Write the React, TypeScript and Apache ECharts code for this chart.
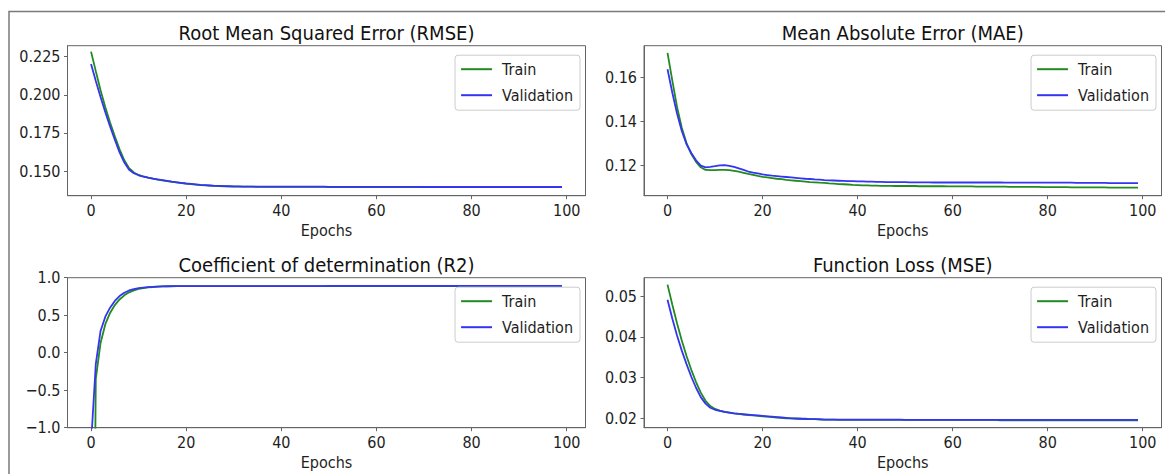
import React, { useEffect, useRef } from "react";
import * as echarts from "echarts";

const X_TICKS = [0, 20, 40, 60, 80, 100];

const RMSE_TRAIN = [
  0.2283, 0.2155, 0.2030, 0.1918, 0.1818, 0.1727, 0.1642, 0.1570, 0.1518, 0.1490,
  0.1474, 0.1464, 0.1456, 0.1450, 0.1444, 0.1439, 0.1434, 0.1429, 0.1425, 0.1421,
  0.1417, 0.1414, 0.1411, 0.1408, 0.1406, 0.1404, 0.1402, 0.1401, 0.1400, 0.1399,
  0.1398, 0.1398, 0.1397, 0.1397, 0.1397, 0.1396, 0.1396, 0.1396, 0.1396, 0.1396,
  0.1396, 0.1396, 0.1396, 0.1396, 0.1396, 0.1396, 0.1396, 0.1396, 0.1396, 0.1396,
  0.1395, 0.1395, 0.1395, 0.1395, 0.1395, 0.1395, 0.1395, 0.1395, 0.1395, 0.1395,
  0.1395, 0.1395, 0.1395, 0.1395, 0.1395, 0.1395, 0.1395, 0.1395, 0.1395, 0.1395,
  0.1395, 0.1395, 0.1395, 0.1395, 0.1395, 0.1395, 0.1395, 0.1395, 0.1395, 0.1395,
  0.1395, 0.1395, 0.1395, 0.1395, 0.1395, 0.1395, 0.1395, 0.1395, 0.1395, 0.1395,
  0.1395, 0.1395, 0.1395, 0.1395, 0.1395, 0.1395, 0.1395, 0.1395, 0.1395, 0.1395,
];
const RMSE_VAL = [
  0.2202, 0.2090, 0.1985, 0.1885, 0.1792, 0.1705, 0.1622, 0.1555, 0.1508, 0.1485,
  0.1472, 0.1463, 0.1456, 0.1450, 0.1445, 0.1440, 0.1435, 0.1430, 0.1426, 0.1422,
  0.1418, 0.1415, 0.1412, 0.1409, 0.1407, 0.1405, 0.1403, 0.1402, 0.1401, 0.1400,
  0.1399, 0.1399, 0.1398, 0.1398, 0.1398, 0.1397, 0.1397, 0.1397, 0.1397, 0.1397,
  0.1397, 0.1397, 0.1397, 0.1397, 0.1397, 0.1397, 0.1397, 0.1397, 0.1397, 0.1397,
  0.1396, 0.1396, 0.1396, 0.1396, 0.1396, 0.1396, 0.1396, 0.1396, 0.1396, 0.1396,
  0.1396, 0.1396, 0.1396, 0.1396, 0.1396, 0.1396, 0.1396, 0.1396, 0.1396, 0.1396,
  0.1395, 0.1395, 0.1395, 0.1395, 0.1395, 0.1395, 0.1395, 0.1395, 0.1395, 0.1395,
  0.1395, 0.1395, 0.1395, 0.1395, 0.1395, 0.1395, 0.1395, 0.1395, 0.1395, 0.1395,
  0.1395, 0.1395, 0.1395, 0.1395, 0.1395, 0.1395, 0.1395, 0.1395, 0.1395, 0.1395,
];

const MAE_TRAIN = [
  0.1710, 0.1585, 0.1465, 0.1370, 0.1300, 0.1250, 0.1215, 0.1190, 0.1178, 0.1177,
  0.1177, 0.1178, 0.1178, 0.1177, 0.1174, 0.1170, 0.1165, 0.1160, 0.1156, 0.1151,
  0.1147, 0.1144, 0.1141, 0.1138, 0.1136, 0.1133, 0.1131, 0.1129, 0.1127, 0.1125,
  0.1123, 0.1122, 0.1120, 0.1119, 0.1117, 0.1116, 0.1114, 0.1113, 0.1112, 0.1110,
  0.1109, 0.1108, 0.1108, 0.1107, 0.1107, 0.1106, 0.1106, 0.1106, 0.1105, 0.1105,
  0.1105, 0.1105, 0.1105, 0.1104, 0.1104, 0.1104, 0.1104, 0.1104, 0.1104, 0.1103,
  0.1103, 0.1103, 0.1103, 0.1103, 0.1103, 0.1102, 0.1102, 0.1102, 0.1102, 0.1102,
  0.1102, 0.1102, 0.1101, 0.1101, 0.1101, 0.1101, 0.1101, 0.1101, 0.1101, 0.1100,
  0.1100, 0.1100, 0.1100, 0.1100, 0.1100, 0.1099, 0.1099, 0.1099, 0.1099, 0.1099,
  0.1099, 0.1099, 0.1099, 0.1098, 0.1098, 0.1098, 0.1098, 0.1098, 0.1098, 0.1098,
];
const MAE_VAL = [
  0.1636, 0.1530, 0.1435, 0.1355, 0.1295, 0.1255, 0.1222, 0.1198, 0.1190, 0.1192,
  0.1195, 0.1199, 0.1200, 0.1197, 0.1192, 0.1185, 0.1178, 0.1171, 0.1166, 0.1162,
  0.1158, 0.1155, 0.1152, 0.1150, 0.1148, 0.1146, 0.1144, 0.1142, 0.1140, 0.1138,
  0.1137, 0.1135, 0.1134, 0.1132, 0.1131, 0.1130, 0.1129, 0.1128, 0.1127, 0.1127,
  0.1126, 0.1126, 0.1125, 0.1125, 0.1124, 0.1124, 0.1123, 0.1123, 0.1123, 0.1123,
  0.1123, 0.1122, 0.1122, 0.1122, 0.1122, 0.1122, 0.1121, 0.1121, 0.1121, 0.1121,
  0.1121, 0.1121, 0.1121, 0.1121, 0.1121, 0.1121, 0.1121, 0.1121, 0.1121, 0.1121,
  0.1121, 0.1120, 0.1120, 0.1120, 0.1120, 0.1120, 0.1120, 0.1120, 0.1120, 0.1120,
  0.1120, 0.1120, 0.1120, 0.1120, 0.1120, 0.1120, 0.1119, 0.1119, 0.1119, 0.1119,
  0.1119, 0.1119, 0.1119, 0.1118, 0.1118, 0.1118, 0.1118, 0.1118, 0.1118, 0.1118,
];

const R2_TRAIN = [
  -7.8, -0.35, 0.13, 0.38, 0.53, 0.635, 0.71, 0.765, 0.805, 0.832,
  0.850, 0.862, 0.870, 0.876, 0.880, 0.883, 0.885, 0.886, 0.887, 0.888,
  0.888, 0.888, 0.888, 0.888, 0.888, 0.888, 0.888, 0.888, 0.888, 0.888,
  0.888, 0.888, 0.888, 0.888, 0.888, 0.888, 0.888, 0.888, 0.888, 0.888,
  0.888, 0.888, 0.888, 0.888, 0.888, 0.888, 0.888, 0.888, 0.888, 0.888,
  0.889, 0.889, 0.889, 0.889, 0.889, 0.889, 0.889, 0.889, 0.889, 0.889,
  0.889, 0.889, 0.889, 0.889, 0.889, 0.889, 0.889, 0.889, 0.889, 0.889,
  0.889, 0.889, 0.889, 0.889, 0.889, 0.889, 0.889, 0.889, 0.889, 0.889,
  0.889, 0.889, 0.889, 0.889, 0.889, 0.889, 0.889, 0.889, 0.889, 0.889,
  0.889, 0.889, 0.889, 0.889, 0.889, 0.889, 0.889, 0.889, 0.889, 0.889,
];
const R2_VAL = [
  -1.22, -0.15, 0.29, 0.48, 0.60, 0.69, 0.755, 0.80, 0.830, 0.848,
  0.860, 0.868, 0.874, 0.878, 0.881, 0.884, 0.886, 0.887, 0.888, 0.889,
  0.889, 0.889, 0.889, 0.889, 0.889, 0.889, 0.889, 0.889, 0.889, 0.889,
  0.889, 0.889, 0.889, 0.889, 0.889, 0.889, 0.889, 0.889, 0.889, 0.889,
  0.889, 0.889, 0.889, 0.889, 0.889, 0.889, 0.889, 0.889, 0.889, 0.889,
  0.890, 0.890, 0.890, 0.890, 0.890, 0.890, 0.890, 0.890, 0.890, 0.890,
  0.890, 0.890, 0.890, 0.890, 0.890, 0.890, 0.890, 0.890, 0.890, 0.890,
  0.890, 0.890, 0.890, 0.890, 0.890, 0.890, 0.890, 0.890, 0.890, 0.890,
  0.890, 0.890, 0.890, 0.890, 0.890, 0.890, 0.890, 0.890, 0.890, 0.890,
  0.890, 0.890, 0.890, 0.890, 0.890, 0.890, 0.890, 0.890, 0.890, 0.890,
];

const MSE_TRAIN = [
  0.0528, 0.0479, 0.0433, 0.0391, 0.0353, 0.0319, 0.0289, 0.0263, 0.0243, 0.0230,
  0.0223, 0.0219, 0.0216, 0.0214, 0.0212, 0.0211, 0.0209, 0.0208, 0.0207, 0.0206,
  0.0205, 0.0204, 0.0203, 0.0202, 0.0201, 0.0200, 0.0200, 0.0199, 0.0199, 0.0198,
  0.0198, 0.0198, 0.0197, 0.0197, 0.0197, 0.0197, 0.0196, 0.0196, 0.0196, 0.0196,
  0.0196, 0.0196, 0.0196, 0.0196, 0.0196, 0.0196, 0.0196, 0.0196, 0.0196, 0.0196,
  0.0196, 0.0196, 0.0196, 0.0196, 0.0196, 0.0196, 0.0196, 0.0196, 0.0196, 0.0196,
  0.0196, 0.0196, 0.0196, 0.0196, 0.0196, 0.0196, 0.0196, 0.0196, 0.0196, 0.0196,
  0.0195, 0.0195, 0.0195, 0.0195, 0.0195, 0.0195, 0.0195, 0.0195, 0.0195, 0.0195,
  0.0195, 0.0195, 0.0195, 0.0195, 0.0195, 0.0195, 0.0195, 0.0195, 0.0195, 0.0195,
  0.0195, 0.0195, 0.0195, 0.0195, 0.0195, 0.0195, 0.0195, 0.0195, 0.0195, 0.0195,
];
const MSE_VAL = [
  0.0491, 0.0445, 0.0403, 0.0366, 0.0333, 0.0302, 0.0275, 0.0252, 0.0236, 0.0226,
  0.0221, 0.0218, 0.0216, 0.0214, 0.0212, 0.0211, 0.0210, 0.0209, 0.0208, 0.0207,
  0.0206, 0.0205, 0.0204, 0.0203, 0.0202, 0.0201, 0.0200, 0.0200, 0.0199, 0.0199,
  0.0198, 0.0198, 0.0198, 0.0197, 0.0197, 0.0197, 0.0197, 0.0197, 0.0197, 0.0197,
  0.0197, 0.0197, 0.0197, 0.0197, 0.0197, 0.0197, 0.0197, 0.0197, 0.0197, 0.0197,
  0.0196, 0.0196, 0.0196, 0.0196, 0.0196, 0.0196, 0.0196, 0.0196, 0.0196, 0.0196,
  0.0196, 0.0196, 0.0196, 0.0196, 0.0196, 0.0196, 0.0196, 0.0196, 0.0196, 0.0196,
  0.0196, 0.0196, 0.0196, 0.0196, 0.0196, 0.0196, 0.0196, 0.0196, 0.0196, 0.0196,
  0.0196, 0.0196, 0.0196, 0.0196, 0.0196, 0.0196, 0.0196, 0.0196, 0.0196, 0.0196,
  0.0196, 0.0196, 0.0196, 0.0196, 0.0196, 0.0196, 0.0196, 0.0196, 0.0196, 0.0196,
];

const TITLES = [
  "Root Mean Squared Error (RMSE)",
  "Mean Absolute Error (MAE)",
  "Coefficient of determination (R2)",
  "Function Loss (MSE)",
];
const Y_TICKS = [
  [0.15, 0.175, 0.2, 0.225],
  [0.12, 0.14, 0.16],
  [-1, -0.5, 0, 0.5, 1],
  [0.02, 0.03, 0.04, 0.05],
];
const Y_RANGES = [
  [0.1338, 0.2322],
  [0.1061, 0.1743],
  [-1, 1],
  [0.0177, 0.05449],
];
const Y_DECIMALS = [3, 2, 1, 2];
const SERIES_NAMES = ["Train", "Validation"];
const TRAIN_SETS = [RMSE_TRAIN, MAE_TRAIN, R2_TRAIN, MSE_TRAIN];
const VAL_SETS = [RMSE_VAL, MAE_VAL, R2_VAL, MSE_VAL];

const FONT = "'DejaVu Sans Condensed', 'DejaVu Sans', sans-serif";
const GREEN = "#218a21";
const BLUE = "#3434f2";
const SPINE = "#646464";
const TEXT = "#1e1e1e";

const GRIDS = [
  { left: 67.5, top: 45.7, width: 518, height: 150 },
  { left: 644, top: 45.7, width: 517.5, height: 150 },
  { left: 67.5, top: 277.7, width: 518, height: 150 },
  { left: 644, top: 277.7, width: 517.5, height: 150 },
];

function fmt(v: number, d: number) {
  const s = Math.abs(v).toFixed(d);
  return v < 0 ? "\u2212" + s : s;
}

export default function App() {
  const ref = useRef<HTMLDivElement>(null);
  useEffect(() => {
    if (!ref.current) return;
    const chart = echarts.init(ref.current, undefined, { renderer: "svg" });
    const grid = GRIDS.map((g) => ({
      ...g,
      show: true,
      borderColor: SPINE,
      borderWidth: 1,
      backgroundColor: "transparent",
      outerBoundsMode: "none",
      containLabel: false,
    }));
    const xAxis = GRIDS.map((_, i) => ({
      type: "value",
      gridIndex: i,
      min: -4.95,
      max: 103.95,
      splitLine: { show: false },
      axisLine: { show: true, onZero: false, lineStyle: { color: SPINE, width: 1 } },
      axisTick: {
        show: true,
        inside: false,
        length: 3.5,
        customValues: X_TICKS,
        lineStyle: { color: SPINE, width: 1 },
      },
      axisLabel: {
        customValues: X_TICKS,
        margin: 7,
        fontSize: 16,
        color: TEXT,
        fontFamily: FONT,
        formatter: (v: number) => String(Math.round(v)),
      },
      name: "Epochs",
      nameLocation: "middle",
      nameGap: 27,
      nameTextStyle: { fontSize: 16, color: TEXT, fontFamily: FONT },
    }));
    const yAxis = GRIDS.map((_, i) => ({
      type: "value",
      gridIndex: i,
      min: Y_RANGES[i][0],
      max: Y_RANGES[i][1],
      splitLine: { show: false },
      axisLine: { show: true, onZero: false, lineStyle: { color: SPINE, width: 1 } },
      axisTick: {
        show: true,
        inside: false,
        length: 3.5,
        customValues: Y_TICKS[i],
        lineStyle: { color: SPINE, width: 1 },
      },
      axisLabel: {
        customValues: Y_TICKS[i],
        margin: 7,
        fontSize: 16,
        color: TEXT,
        fontFamily: FONT,
        formatter: (v: number) => fmt(v, Y_DECIMALS[i]),
      },
    }));
    const series: any[] = [];
    GRIDS.forEach((_, i) => {
      series.push({
        name: SERIES_NAMES[0],
        type: "line",
        xAxisIndex: i,
        yAxisIndex: i,
        data: TRAIN_SETS[i].map((v, k) => [k, v]),
        showSymbol: false,
        symbol: "none",
        clip: true,
        lineStyle: { color: GREEN, width: 1.8 },
        itemStyle: { color: GREEN },
      });
      series.push({
        name: SERIES_NAMES[1],
        type: "line",
        xAxisIndex: i,
        yAxisIndex: i,
        data: VAL_SETS[i].map((v, k) => [k, v]),
        showSymbol: false,
        symbol: "none",
        clip: true,
        lineStyle: { color: BLUE, width: 1.8 },
        itemStyle: { color: BLUE },
      });
    });
    const legend = GRIDS.map((g, i) => ({
      right: i % 2 === 0 ? 1165 - 580 : 1165 - 1156,
      top: g.top + 9.5,
      orient: "vertical",
      data: SERIES_NAMES,
      icon: "rect",
      itemWidth: 31,
      itemHeight: 2,
      itemGap: 8,
      padding: [5, 7, 6, 6],
      borderColor: "#cccccc",
      borderWidth: 1,
      borderRadius: 3,
      backgroundColor: "rgba(255,255,255,0.85)",
      selectedMode: false,
      textStyle: {
        fontSize: 16,
        color: TEXT,
        fontFamily: FONT,
        lineHeight: 18,
        padding: [0, 0, 0, 5],
      },
    }));
    const graphic: any[] = [
      {
        type: "rect",
        shape: { x: 9, y: 11.5, width: 1300, height: 600 },
        style: { fill: "none", stroke: "#7a7a7a", lineWidth: 1.5 },
        silent: true,
      },
    ];
    GRIDS.forEach((g, i) => {
      graphic.push({
        type: "text",
        x: g.left + g.width / 2,
        y: g.top - 12.4,
        style: {
          text: TITLES[i],
          fontSize: 20,
          fontFamily: FONT,
          fill: "#111",
          align: "center",
          verticalAlign: "middle",
        },
        silent: true,
      });
    });
    chart.setOption({
      animation: false,
      grid,
      xAxis,
      yAxis,
      series,
      legend,
      graphic,
    });
    return () => chart.dispose();
  }, []);
  return (
    <div
      ref={ref}
      style={{ position: "fixed", left: 0, top: 0, width: 1165, height: 474, background: "#fff" }}
    />
  );
}
